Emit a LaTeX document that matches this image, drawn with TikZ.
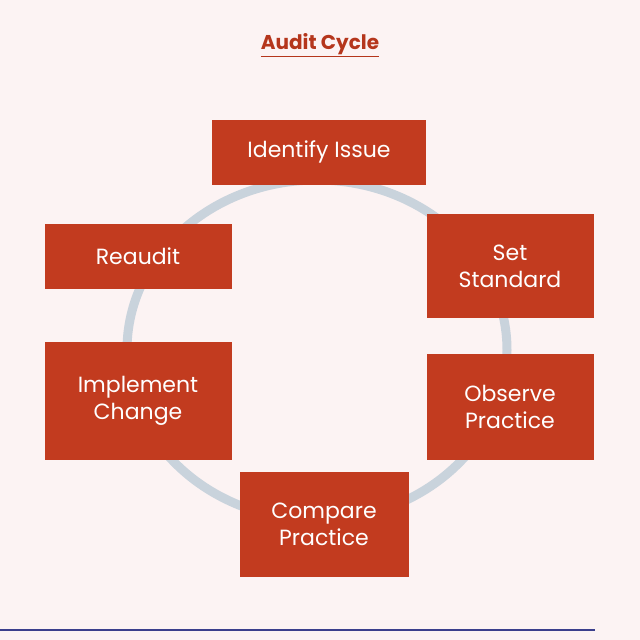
\documentclass[tikz,border=0pt]{standalone}
\usepackage{fontspec}
\setmainfont{Poppins}
\usetikzlibrary{positioning}
\definecolor{bgpink}{HTML}{FCF3F3}
\definecolor{boxred}{HTML}{C23B1F}
\definecolor{titlered}{HTML}{B5361C}
\definecolor{ringgray}{HTML}{C9D3DC}
\definecolor{lineblue}{HTML}{3B3F8C}
\tikzset{
    stepbox/.style = {rectangle, draw=none, fill=boxred, align=center, text=white, font=\fontsize{22}{27}\selectfont, inner sep=0pt},
    ring/.style = {line width=9pt, ringgray},
}
\begin{document}
\begin{tikzpicture}[x=1pt,y=-1pt]
\fill[bgpink] (0,0) rectangle (640,640);
\useasboundingbox (0,0) rectangle (640,640);
\draw[ring] (317,350) ellipse [x radius=190, y radius=170];
\draw[lineblue, line width=2pt] (0,630) -- (595,630);

\node[text=titlered, font=\fontsize{20}{24}\selectfont\bfseries] (title) at (320,45) {\underline{Audit Cycle}};

\node[stepbox, minimum width=214pt, minimum height=65pt] (identify) at (319,152) {Identify Issue};
\node[stepbox, minimum width=167pt, minimum height=104pt] (set) at (510,266) {Set\\Standard};
\node[stepbox, minimum width=167pt, minimum height=106pt] (observe) at (510,407) {Observe\\Practice};
\node[stepbox, minimum width=169pt, minimum height=105pt] (compare) at (324,524) {Compare\\Practice};
\node[stepbox, minimum width=187pt, minimum height=118pt] (implement) at (138,401) {Implement\\Change};
\node[stepbox, minimum width=187pt, minimum height=65pt] (reaudit) at (138,256) {Reaudit};
\end{tikzpicture}
\end{document}
